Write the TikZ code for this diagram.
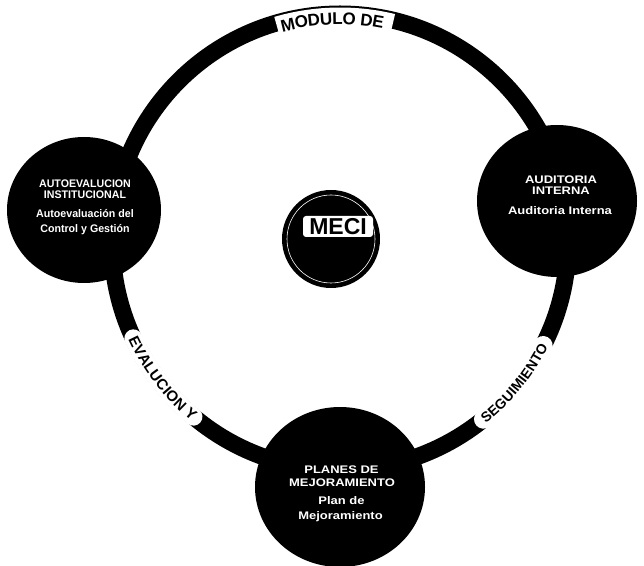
\documentclass[tikz,border=0pt]{standalone}
\usepackage{fontspec}
\setmainfont{Liberation Sans}
\usetikzlibrary{shapes.geometric,decorations.text}
\begin{document}
\begin{tikzpicture}[x=1pt,y=1pt,
  disc/.style={ellipse, fill=black, inner sep=0pt},
  wt/.style={text=white, font=\bfseries\fontsize{11}{11}\selectfont, anchor=base, xscale=1.18, inner sep=0pt},
  wtl/.style={wt, xscale=0.82},
  patch/.style={white, line cap=round}
]
\useasboundingbox (0,0) rectangle (644,565);
\coordinate (O) at (340,323);
% ring
\draw[line width=17pt] (O) circle (228);
% ring labels: white patches
\draw[white, line width=21pt] ([shift={(106.3:224)}]O) arc (106.3:76.4:224);
\draw[patch, line width=19pt] ([shift={(-51:228)}]O) arc (-51:-27:228);
\draw[patch, line width=18pt] ([shift={(205:228)}]O) arc (205:230:228);
% ring labels: text
\path[decorate, decoration={text along path, text align=center, raise=-6pt,
  text={|\bfseries\fontsize{17}{17}\selectfont|MODULO DE}}]
  ([shift={(121:223.5)}]O) arc (121:63:223.5);
\path[decorate, decoration={text along path, text align=center, raise=-5pt,
  text={|\bfseries\fontsize{14}{14}\selectfont|SEGUIMIENTO}}]
  ([shift={(-65:228)}]O) arc (-65:-13:228);
\path[decorate, decoration={text along path, text align=center, raise=-5pt,
  text={|\bfseries\fontsize{15}{15}\selectfont|EVALUCION Y}}]
  ([shift={(190:228)}]O) arc (190:245:228);
% discs
\node[disc, minimum width=154, minimum height=146] (auto) at (84,355) {};
\node[disc, minimum width=160, minimum height=152] (audit) at (557,364) {};
\node[disc, minimum width=170, minimum height=160] (plan) at (340,78) {};
\node[disc, minimum width=98, minimum height=98] (meci) at (331,326) {};
\draw[white, line width=0.6pt] (meci.center) circle (44);
\node[fill=white, rounded corners=3pt, minimum width=70, minimum height=21, inner sep=0pt,
  font=\bfseries\fontsize{23}{23}\selectfont] (mecilbl) at (338,338.5) {MECI};
% disc texts
\node[wtl] (a1) at (85,377) {AUTOEVALUCION};
\node[wtl] (a2) at (85,366) {INSTITUCIONAL};
\node[wtl] (a3) at (85,347) {Autoevaluación del};
\node[wtl] (a4) at (85,332) {Control y Gestión};
\node[wt] (b1) at (561,381) {AUDITORIA};
\node[wt] (b2) at (561,370) {INTERNA};
\node[wt] (b3) at (560,350) {Auditoria Interna};
\node[wt] (c1) at (341.5,92) {PLANES DE};
\node[wt] (c2) at (342,79) {MEJORAMIENTO};
\node[wt] (c3) at (341.5,61) {Plan de};
\node[wt] (c4) at (340.5,46) {Mejoramiento};
\end{tikzpicture}
\end{document}
